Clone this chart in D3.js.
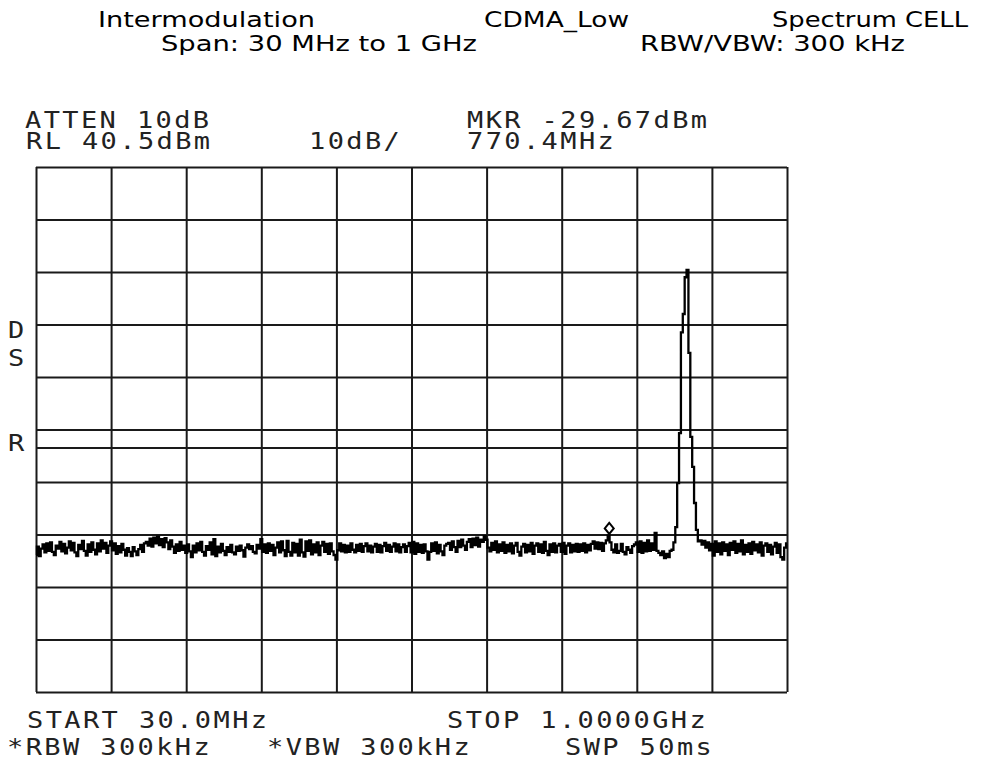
<!DOCTYPE html>
<html>
<head>
<meta charset="utf-8">
<script src="https://cdn.jsdelivr.net/npm/d3@7"></script>
<style>
  html, body { margin: 0; padding: 0; background: #fff; }
  svg { display: block; }
</style>
</head>
<body>
<svg id="chart" width="981" height="761"></svg>
<script>
// ---------------- data ----------------
const titleRow1 = ["Intermodulation", "CDMA_Low", "Spectrum CELL"];
const titleRow2 = ["Span: 30 MHz to 1 GHz", "RBW/VBW: 300 kHz"];

const startMHz = 30;
const stopMHz = 1000;
const refLevel = 40.5;      // dBm (top of screen)
const dbPerDiv = 10;
const displayLine = -13;    // dBm
const markerMHz = 770.4;
const markerDbm = -29.67;

// grid divisions (frequency, MHz)
const xDivs = [30, 127, 224, 321, 418, 515, 612, 709, 806, 903, 1000];
// grid divisions (level, dBm)
const yDivs = [40.5, 30.5, 20.5, 10.5, 0.5, -9.5, -19.5, -29.5, -39.5, -49.5, -59.5];

// trace: 401 sweep points, level in dBm
const traceDbm = [
  -33.4,-31.8,-33.6,-32.2,-31.4,-32.9,-31.2,-32.6,-31.0,-32.8,-33.4,-31.6,-32.2,-30.9,-32.7,-31.3,-33.1,-32.0,-30.8,-32.5,
  -31.1,-32.9,-33.6,-31.5,-32.3,-30.7,-32.6,-33.5,-31.4,-32.8,-31.0,-32.4,-33.3,-31.2,-32.7,-30.6,-32.2,-31.1,-33.0,-31.6,
  -30.8,-32.5,-31.2,-33.2,-31.7,-32.9,-31.3,-32.4,-33.5,-32.1,-32.8,-33.6,-31.9,-32.7,-33.4,-32.3,-31.5,-32.8,-31.2,-30.9,
  -31.6,-30.3,-31.8,-30.1,-31.2,-29.9,-31.5,-30.4,-31.9,-30.2,-31.0,-32.3,-30.6,-31.8,-33.0,-31.4,-32.6,-30.9,-32.4,-31.6,
  -33.0,-31.4,-32.7,-33.8,-31.6,-32.9,-31.2,-32.5,-30.9,-32.8,-33.5,-31.7,-32.4,-31.0,-33.3,-30.4,-33.6,-31.8,-32.9,-31.3,
  -32.6,-33.4,-31.9,-32.8,-31.5,-32.9,-33.3,-31.8,-32.6,-31.6,-32.5,-33.7,-32.0,-31.4,-32.3,-31.7,-32.8,-33.1,-31.5,-32.2,
  -30.4,-32.8,-31.4,-33.0,-31.2,-32.6,-31.5,-33.4,-32.0,-31.0,-32.9,-30.8,-32.5,-33.6,-30.7,-32.8,-33.5,-31.1,-32.9,-31.3,
  -33.5,-30.5,-32.9,-33.7,-30.8,-32.6,-30.6,-33.3,-31.4,-32.9,-31.0,-33.4,-31.6,-30.9,-32.8,-31.3,-33.2,-31.2,-32.7,-33.4,
  -34.3,-32.5,-31.2,-32.7,-31.5,-32.9,-31.6,-32.8,-31.2,-32.4,-32.9,-31.5,-32.6,-31.3,-32.8,-31.7,-31.2,-32.7,-31.6,-32.9,
  -31.8,-31.3,-32.8,-31.5,-32.9,-31.7,-31.1,-32.6,-31.5,-32.8,-31.8,-31.2,-32.7,-31.4,-32.9,-31.9,-31.4,-32.8,-31.7,-31.1,
  -32.9,-30.9,-33.2,-31.2,-32.8,-31.5,-33.0,-31.4,-32.7,-34.3,-32.8,-31.2,-32.6,-31.0,-33.1,-31.5,-32.7,-33.4,-31.6,-31.3,
  -31.1,-32.4,-30.8,-31.9,-32.8,-30.7,-31.9,-30.5,-31.6,-32.4,-30.9,-30.4,-31.9,-30.3,-31.5,-30.1,-31.8,-30.5,-30.9,-29.8,
  -30.5,-32.0,-32.7,-31.1,-32.4,-30.8,-32.9,-31.4,-32.6,-31.0,-33.0,-31.5,-32.7,-31.2,-33.1,-31.6,-31.1,-32.8,-33.5,-31.8,
  -31.3,-32.9,-31.5,-32.7,-31.1,-33.2,-31.6,-31.2,-32.8,-31.4,-33.0,-30.9,-32.6,-33.4,-31.4,-32.8,-31.2,-32.9,-31.6,-31.3,
  -32.8,-31.1,-33.2,-31.6,-31.2,-32.9,-31.5,-32.7,-31.3,-32.8,-31.4,-32.6,-31.2,-32.9,-31.5,-32.5,-31.3,-30.8,-32.2,-31.0,
  -32.3,-31.1,-32.6,-31.2,-30.6,-29.7,-31.0,-32.4,-32.9,-31.4,-33.0,-32.6,-31.3,-32.8,-33.3,-31.9,-32.4,-33.0,-31.7,-31.4,
  -31.0,-32.8,-30.8,-33.0,-31.1,-32.7,-30.6,-32.6,-31.2,-32.4,-29.2,-32.6,-33.0,-33.4,-32.7,-34.0,-33.2,-33.8,-32.6,-32.4,
  -31.0,-28.1,-19.7,-10.2,9.0,12.5,19.5,20.9,5.1,-10.9,-16.6,-23.5,-28.6,-30.8,
  -30.6,-31.4,-30.7,-32.0,-31.0,-32.5,-31.3,-33.5,-30.8,-32.8,
  -31.2,-33.3,-31.0,-32.6,-31.4,-33.4,-31.1,-32.4,-30.8,-33.0,
  -31.3,-32.7,-30.6,-33.3,-31.5,-32.8,-31.2,-33.2,-30.9,-32.5,
  -31.4,-32.9,-31.0,-33.5,-31.6,-31.2,-32.8,-31.5,-33.3,-31.8,
  -31.1,-33.0,-31.4,-33.8,-34.3,-32.0,-31.2
];

// annotation texts
const topLeft1 = "ATTEN 10dB";
const topLeft2 = "RL 40.5dBm";
const scaleText = "10dB/";
const mkrText1 = "MKR -29.67dBm";
const mkrText2 = "770.4MHz";
const sideLabels = ["D", "S", "R"];
const bottom1 = ["START 30.0MHz", "STOP 1.0000GHz"];
const bottom2 = ["*RBW 300kHz", "*VBW 300kHz", "SWP 50ms"];

// ---------------- drawing ----------------
const svg = d3.select("#chart");
const L = 36, R = 787, T = 167, B = 692;

const x = d3.scaleLinear().domain([startMHz, stopMHz]).range([L, R]);
const y = d3.scaleLinear().domain([refLevel - 10 * dbPerDiv, refLevel]).range([B, T]);

const ink = "#1a1a1a";

// titles
const titleFont = "Verdana, 'DejaVu Sans', sans-serif";
const t1 = [{x: 98, w: 217}, {x: 484, w: 145}, {x: 772, w: 196}];
const t2 = [{x: 161, w: 316}, {x: 640, w: 265}];
titleRow1.forEach((s, i) => {
  svg.append("text").attr("x", t1[i].x).attr("y", 27)
    .attr("font-family", titleFont).attr("font-size", 21).attr("fill", "#000")
    .attr("textLength", t1[i].w).attr("lengthAdjust", "spacingAndGlyphs").text(s);
});
titleRow2.forEach((s, i) => {
  svg.append("text").attr("x", t2[i].x).attr("y", 51)
    .attr("font-family", titleFont).attr("font-size", 21).attr("fill", "#000")
    .attr("textLength", t2[i].w).attr("lengthAdjust", "spacingAndGlyphs").text(s);
});

// grid via axes
const gridX = svg.append("g").attr("transform", `translate(0,${B})`)
  .call(d3.axisBottom(x).tickValues(xDivs).tickSize(-(B - T)).tickFormat(""));
const gridY = svg.append("g").attr("transform", `translate(${L},0)`)
  .call(d3.axisLeft(y).tickValues(yDivs).tickSize(-(R - L)).tickFormat(""));
[gridX, gridY].forEach(g => {
  g.select(".domain").remove();
  g.selectAll("line").attr("stroke", ink).attr("stroke-width", 2);
});

// display line
svg.append("line")
  .attr("x1", L).attr("x2", R)
  .attr("y1", y(displayLine)).attr("y2", y(displayLine))
  .attr("stroke", ink).attr("stroke-width", 2);

// trace
const n = traceDbm.length;
const fStep = (stopMHz - startMHz) / (n - 1);
const line = d3.line()
  .x((d, i) => x(startMHz + i * fStep))
  .y(d => y(d))
  .curve(d3.curveStep);
svg.append("path").datum(traceDbm)
  .attr("d", line)
  .attr("fill", "none").attr("stroke", "#000").attr("stroke-width", 2.3)
  .attr("stroke-linejoin", "miter");

// marker diamond
const mx = x(markerMHz), my = y(markerDbm) - 7;
svg.append("path")
  .attr("d", `M${mx},${my - 5.5} L${mx + 4.5},${my} L${mx},${my + 5.5} L${mx - 4.5},${my} Z`)
  .attr("fill", "none").attr("stroke", "#000").attr("stroke-width", 2);

// annotation text (instrument font, stretched horizontally)
const sx = 1.2;
const annG = svg.append("g").attr("transform", `scale(${sx},1)`);
function ann(px, py, s) {
  annG.append("text").attr("x", px / sx).attr("y", py)
    .attr("font-family", "'DejaVu Sans Mono', monospace")
    .attr("font-size", 22.5).attr("letter-spacing", 2.0)
    .attr("fill", "#222").text(s);
}
ann(25, 128, topLeft1);
ann(26, 149.5, topLeft2);
ann(309, 149.5, scaleText);
ann(467, 128, mkrText1);
ann(467, 149.5, mkrText2);
const sideY = [338, 366, 451];
sideLabels.forEach((s, i) => ann(8, sideY[i], s));
ann(27, 728, bottom1[0]);
ann(447, 728, bottom1[1]);
ann(7, 755, bottom2[0]);
ann(267, 755, bottom2[1]);
ann(565, 755, bottom2[2]);
</script>
</body>
</html>
